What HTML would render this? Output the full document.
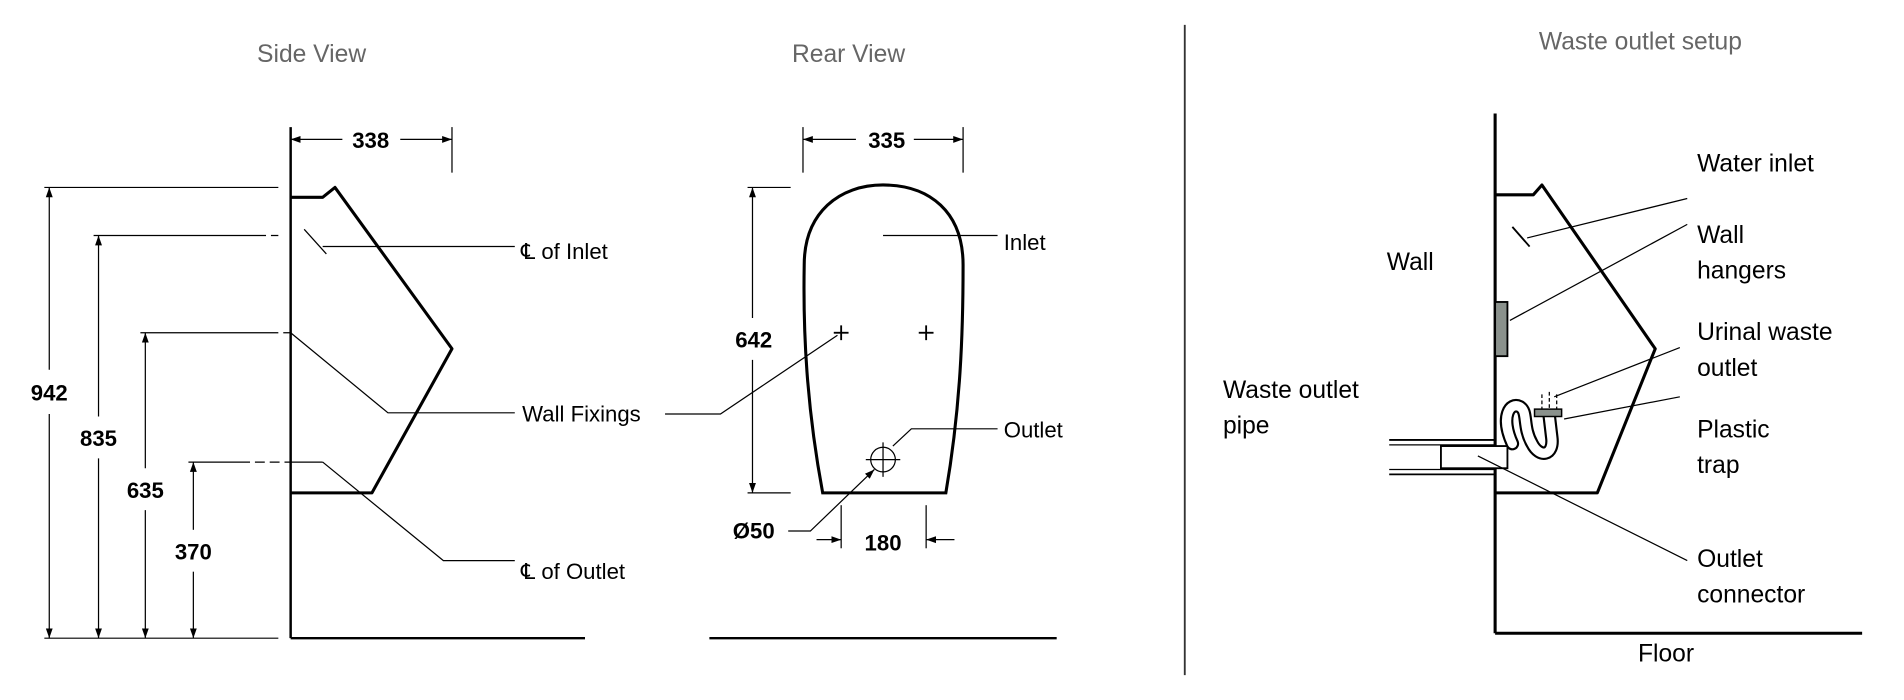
<!DOCTYPE html>
<html><head><meta charset="utf-8"><style>
html,body{margin:0;padding:0;background:#fff;width:1904px;height:700px;overflow:hidden}
svg{display:block}
text{font-family:"Liberation Sans",sans-serif}
</style></head><body>
<svg width="1904" height="700" viewBox="0 0 1546 568" xmlns="http://www.w3.org/2000/svg">
<defs>
<marker id="a" viewBox="0 0 10 10" refX="10" refY="5" markerWidth="8" markerHeight="8" orient="auto-start-reverse" markerUnits="userSpaceOnUse"><path d="M0,1.5 L10,5 L0,8.5 Z" fill="#000"/></marker>
</defs>
<rect width="1546" height="568" fill="#fff"/>
<g fill="#666" font-size="20" text-anchor="middle">
<text x="253" y="50">Side View</text>
<text x="689" y="50">Rear View</text>
<text x="1332" y="40">Waste outlet setup</text>
</g>
<line x1="962" y1="20" x2="962" y2="548" stroke="#333" stroke-width="1.5"/>

<g stroke="#000" fill="none">
<line x1="236" y1="103" x2="236" y2="518" stroke-width="2"/>
<line x1="236" y1="518" x2="475" y2="518" stroke-width="2"/>
<path d="M236,160 L262,160 L272,152 L367,283 L302,400 L236,400" stroke-width="2.5" stroke-linejoin="round"/>
<g stroke-width="1">
<line x1="36" y1="152" x2="226" y2="152"/>
<line x1="36" y1="518" x2="226" y2="518"/>
<line x1="76" y1="191" x2="226" y2="191" stroke-dasharray="140 4 6 4"/>
<line x1="114" y1="270" x2="236" y2="270" stroke-dasharray="112 4 6"/>
<line x1="153" y1="375" x2="262" y2="375" stroke-dasharray="50 4 8 4 8 4 40"/>
<line x1="40" y1="300" x2="40" y2="152" marker-end="url(#a)"/>
<line x1="40" y1="336" x2="40" y2="518" marker-end="url(#a)"/>
<line x1="80" y1="338" x2="80" y2="191" marker-end="url(#a)"/>
<line x1="80" y1="372" x2="80" y2="518" marker-end="url(#a)"/>
<line x1="118" y1="380" x2="118" y2="270" marker-end="url(#a)"/>
<line x1="118" y1="414" x2="118" y2="518" marker-end="url(#a)"/>
<line x1="157" y1="430" x2="157" y2="375" marker-end="url(#a)"/>
<line x1="157" y1="464" x2="157" y2="518" marker-end="url(#a)"/>
<line x1="367" y1="103" x2="367" y2="140"/>
<line x1="278" y1="113" x2="236" y2="113" marker-end="url(#a)"/>
<line x1="325" y1="113" x2="367" y2="113" marker-end="url(#a)"/>
<line x1="247" y1="186" x2="265" y2="206"/>
<line x1="262" y1="200" x2="418" y2="200"/>
<polyline points="236,270 315,335 418,335"/>
<polyline points="262,375 360,455 418,455"/>
</g>
</g>
<g font-size="18" font-weight="bold" text-anchor="middle">
<text x="40" y="325">942</text>
<text x="80" y="362">835</text>
<text x="118" y="404">635</text>
<text x="157" y="454">370</text>
<text x="301" y="120">338</text>
<text x="720" y="120">335</text>
<text x="612" y="282">642</text>
<text x="612" y="437">Ø50</text>
<text x="717" y="447">180</text>
</g>
<g font-size="18">
<text x="423" y="210">℄ of Inlet</text>
<text x="424" y="342">Wall Fixings</text>
<text x="423" y="470">℄ of Outlet</text>
<text x="815" y="203">Inlet</text>
<text x="815" y="355">Outlet</text>
</g>

<g stroke="#000" fill="none">
<line x1="576" y1="518" x2="858" y2="518" stroke-width="2"/>
<path d="M668,400 C655,330 652,270 653,215 C653,172 682,150 717,150 C755,150 782,172 782,215 C782,270 780,330 768,400 Z" stroke-width="2.5"/>
<g stroke-width="1">
<line x1="652" y1="103" x2="652" y2="140"/>
<line x1="782" y1="103" x2="782" y2="140"/>
<line x1="695" y1="113" x2="652" y2="113" marker-end="url(#a)"/>
<line x1="742" y1="113" x2="782" y2="113" marker-end="url(#a)"/>
<line x1="607" y1="152" x2="642" y2="152"/>
<line x1="607" y1="400" x2="642" y2="400"/>
<line x1="611" y1="258" x2="611" y2="152" marker-end="url(#a)"/>
<line x1="611" y1="292" x2="611" y2="400" marker-end="url(#a)"/>
<line x1="717" y1="191" x2="810" y2="191"/>
<polyline points="540,336 585,336 680,272"/>
<line x1="677" y1="270" x2="689" y2="270" stroke-width="1.5"/>
<line x1="683" y1="264" x2="683" y2="276" stroke-width="1.5"/>
<line x1="746" y1="270" x2="758" y2="270" stroke-width="1.5"/>
<line x1="752" y1="264" x2="752" y2="276" stroke-width="1.5"/>
<circle cx="717" cy="373" r="10"/>
<line x1="703" y1="373" x2="731" y2="373"/>
<line x1="717" y1="359" x2="717" y2="387"/>
<polyline points="725,362 740,348 810,348"/>
<polyline points="640,431 658,431 710,381" marker-end="url(#a)"/>
<line x1="683" y1="410" x2="683" y2="445"/>
<line x1="752" y1="410" x2="752" y2="445"/>
<line x1="663" y1="438" x2="683" y2="438" marker-end="url(#a)"/>
<line x1="775" y1="438" x2="752" y2="438" marker-end="url(#a)"/>
</g>
</g>

<g stroke="#000" fill="none">
<line x1="1214" y1="92" x2="1214" y2="514" stroke-width="2.5"/>
<line x1="1214" y1="514" x2="1512" y2="514" stroke-width="2.5"/>
<path d="M1214,158 L1245,158 L1252,150 L1344,283 L1297,400 L1214,400" stroke-width="2.5" stroke-linejoin="round"/>
<line x1="1128" y1="357" x2="1214" y2="357" stroke-width="1.5"/>
<line x1="1128" y1="361" x2="1214" y2="361" stroke-width="1"/>
<line x1="1128" y1="381" x2="1214" y2="381" stroke-width="1"/>
<line x1="1128" y1="385" x2="1214" y2="385" stroke-width="1.5"/>
<rect x="1170" y="362" width="54" height="18" fill="#fff" stroke-width="1.5"/>
<rect x="1214" y="245" width="10" height="44" fill="#8a918c" stroke-width="1.5"/>
<path d="M1228,360 C1218,338 1226,326 1234,330 C1241,334 1236,346 1244,360 C1250,372 1262,370 1260,355 L1258,338" stroke-width="11" stroke-linecap="round"/>
<path d="M1228,360 C1218,338 1226,326 1234,330 C1241,334 1236,346 1244,360 C1250,372 1262,370 1260,355 L1258,338" stroke="#fff" stroke-width="7.5" stroke-linecap="round"/>
<rect x="1246" y="332" width="22" height="6" fill="#8a918c" stroke-width="1.2"/>
<g stroke-width="1">
<line x1="1252" y1="320" x2="1252" y2="332" stroke-dasharray="3 2"/>
<line x1="1258" y1="318" x2="1258" y2="332" stroke-dasharray="3 2"/>
<line x1="1264" y1="320" x2="1264" y2="332" stroke-dasharray="3 2"/>
<line x1="1228" y1="184" x2="1242" y2="200" stroke-width="1.5"/>
<line x1="1240" y1="193" x2="1370" y2="161"/>
<line x1="1226" y1="260" x2="1370" y2="182"/>
<line x1="1262" y1="322" x2="1364" y2="282"/>
<line x1="1270" y1="340" x2="1364" y2="322"/>
<line x1="1200" y1="370" x2="1370" y2="455"/>
</g>
</g>
<g font-size="20" fill="#000">
<text x="1378" y="139">Water inlet</text>
<text x="1378" y="197">Wall</text>
<text x="1378" y="226">hangers</text>
<text x="1378" y="276">Urinal waste</text>
<text x="1378" y="305">outlet</text>
<text x="1378" y="355">Plastic</text>
<text x="1378" y="384">trap</text>
<text x="1378" y="460">Outlet</text>
<text x="1378" y="489">connector</text>
<text x="1126" y="219">Wall</text>
<text x="993" y="323">Waste outlet</text>
<text x="993" y="352">pipe</text>
<text x="1330" y="537">Floor</text>
</g>
</svg>
</body></html>
